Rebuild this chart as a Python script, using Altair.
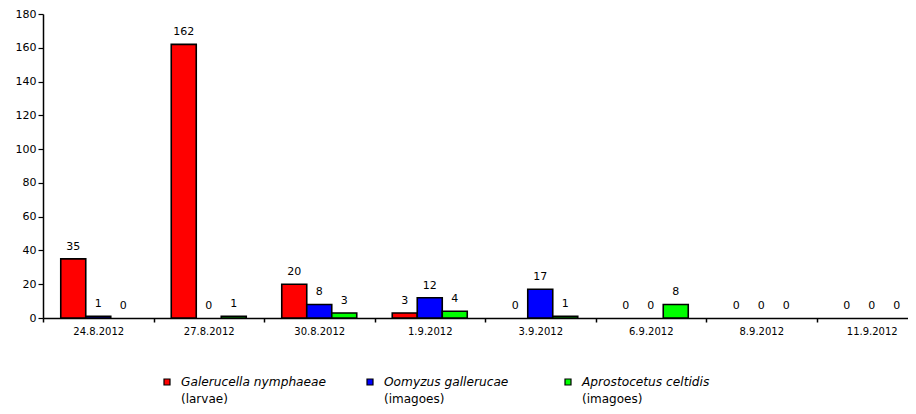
import altair as alt
import pandas as pd

dates = ["24.8.2012", "27.8.2012", "30.8.2012", "1.9.2012", "3.9.2012",
         "6.9.2012", "8.9.2012", "11.9.2012"]
names = ["Galerucella nymphaeae", "Oomyzus gallerucae", "Aprostocetus celtidis"]
stages = ["(larvae)", "(imagoes)", "(imagoes)"]
colors = ["#FF0000", "#0000FF", "#00FF00"]
galerucella = [35, 162, 20, 3, 0, 0, 0, 0]
oomyzus = [1, 0, 8, 12, 17, 0, 0, 0]
aprostocetus = [0, 1, 3, 4, 1, 8, 0, 0]
y_ticks = [0, 20, 40, 60, 80, 100, 120, 140, 160, 180]

rows = []
for s, vals in zip(names, [galerucella, oomyzus, aprostocetus]):
    for d, v in zip(dates, vals):
        rows.append({"date": d, "series": s, "value": v})
df = pd.DataFrame(rows)
legend_df = pd.DataFrame({"series": names, "stage": stages})

FONT = "DejaVu Sans"

x_enc = alt.X("date:N", sort=dates,
              scale=alt.Scale(domain=dates, range=[0, 884], paddingInner=0, paddingOuter=0),
              axis=alt.Axis(title=None, labelAngle=0, labelFont=FONT, labelFontSize=10,
                            labelColor="#000000", labelPadding=4, tickSize=4,
                            tickColor="#000000", domainColor="#000000", domainWidth=1.5,
                            tickWidth=1.5, tickBand="extent", labelOverlap=False, grid=False))
xoff = alt.XOffset("series:N", sort=names,
                   scale=alt.Scale(domain=names, paddingOuter=0.71, paddingInner=0))
y_enc = alt.Y("value:Q", scale=alt.Scale(domain=[0, 180], nice=False),
              axis=alt.Axis(title=None, values=y_ticks, grid=False, labelFont=FONT,
                            labelFontSize=11, labelColor="#000000", labelPadding=2,
                            tickSize=5, tickColor="#000000", domainColor="#000000",
                            domainWidth=1.5, tickWidth=1.2))
color_enc = alt.Color("series:N", scale=alt.Scale(domain=names, range=colors), legend=None)

bars = alt.Chart(df).mark_bar(stroke="#000000", strokeWidth=1.6).encode(
    x=x_enc, xOffset=xoff, y=y_enc, color=color_enc,
    strokeOpacity=alt.condition("datum.value > 0", alt.value(1), alt.value(0)))

labels = alt.Chart(df).mark_text(font=FONT, fontSize=11, color="#000000",
                                 baseline="middle", dy=-12).encode(
    x=x_enc, xOffset=xoff, y=y_enc, text=alt.Text("value:Q"))

legend_x = [124, 327, 525]
legend_layers = []
for i, s in enumerate(names):
    base = alt.Chart(legend_df).transform_filter(alt.datum.series == s)
    legend_layers.append(base.mark_square(size=36, stroke="#000000", strokeWidth=1.2,
                                          fill=colors[i], opacity=1).encode(
        x=alt.value(legend_x[i]), y=alt.value(368)))
    legend_layers.append(base.mark_text(font=FONT, fontSize=12.2, fontStyle="italic",
                                        align="left", baseline="middle", color="#000000").encode(
        x=alt.value(legend_x[i] + 14), y=alt.value(368), text="series:N"))
    legend_layers.append(base.mark_text(font=FONT, fontSize=12, align="left",
                                        baseline="middle", color="#000000").encode(
        x=alt.value(legend_x[i] + 14), y=alt.value(384.5), text="stage:N"))

chart = alt.layer(bars, labels, *legend_layers).properties(
    width=865, height=304,
    background="#ffffff",
    autosize=alt.AutoSizeParams(type="none"),
    padding={"left": 35, "top": 6, "right": 0, "bottom": 88},
).configure_view(strokeWidth=0, stroke="transparent")

chart.save("out.html", embed_options={"renderer": "svg", "actions": False})
